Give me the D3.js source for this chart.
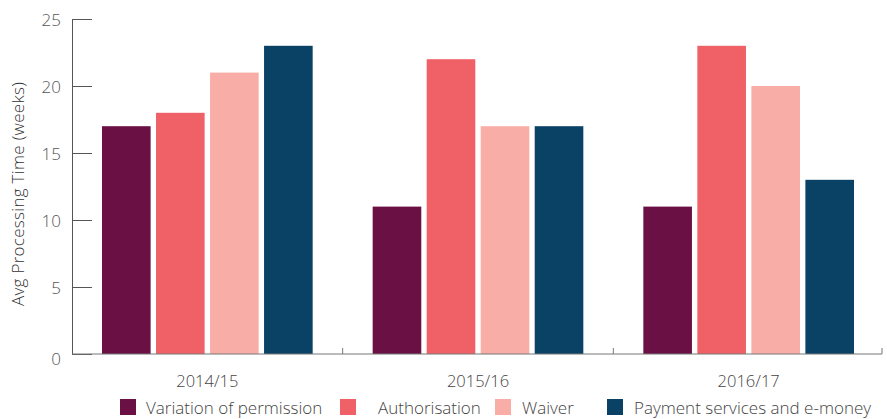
<!DOCTYPE html>
<html>
<head>
<meta charset="utf-8">
<script src="https://cdn.jsdelivr.net/npm/d3@7"></script>
<style>
  body { margin: 0; background: #fff; }
  svg text { font-family: "Open Sans", Lato, sans-serif; font-weight: 300; }
</style>
</head>
<body>
<svg width="887" height="419"></svg>
<script>
var years = ["2014/15", "2015/16", "2016/17"];
var seriesNames = ["Variation of permission", "Authorisation", "Waiver", "Payment services and e-money"];
var variation = [17, 11, 11];
var authorisation = [18, 22, 23];
var waiver = [21, 17, 20];
var payment = [23, 17, 13];
var yTicks = [0, 5, 10, 15, 20, 25];
var colors = ["#6b1044", "#f06167", "#f8aea6", "#0a4265"];

var svg = d3.select("svg");
var allSeries = [variation, authorisation, waiver, payment];

var x0 = d3.scaleBand().domain(years).range([72, 884]).paddingInner(0).paddingOuter(0);
var x1 = d3.scaleBand().domain(seriesNames).range([30, x0.bandwidth() - 30]).paddingInner(0.1).paddingOuter(0);
var y = d3.scaleLinear().domain([0, 25]).range([354, 19]);

// bars
var groups = svg.append("g").selectAll("g")
    .data(years)
    .enter().append("g")
    .attr("transform", function (d) { return "translate(" + x0(d) + ",0)"; });

groups.selectAll("rect")
    .data(function (d, i) { return seriesNames.map(function (s, j) { return {s: s, v: allSeries[j][i], j: j}; }); })
    .enter().append("rect")
    .attr("x", function (d) { return x1(d.s); })
    .attr("width", x1.bandwidth())
    .attr("y", function (d) { return y(d.v); })
    .attr("height", function (d) { return y(0) - y(d.v); })
    .style("fill", function (d) { return colors[d.j]; });

// y axis
var yAxis = d3.axisRight(y).tickValues(yTicks).tickSize(20).tickFormat("");
var gy = svg.append("g").attr("transform", "translate(72,0)").call(yAxis);
gy.select(".domain").attr("stroke", "#555");
gy.selectAll(".tick line").attr("stroke", "#555");

svg.append("g").selectAll("text")
    .data(yTicks)
    .enter().append("text")
    .attr("x", 61)
    .attr("y", function (d) { return y(d) + (d === 0 ? 5 : 1); })
    .attr("dy", "0.35em")
    .attr("text-anchor", "end")
    .style("font-size", "17px")
    .style("fill", "#555")
    .text(function (d) { return d; });

// x axis
var xAxis = d3.axisBottom(x0).tickSize(0).tickFormat("");
var gx = svg.append("g").attr("transform", "translate(0,354)").call(xAxis);
gx.select(".domain").attr("stroke", "#777").attr("d", "M72,0H882V-6");

svg.append("g").selectAll("line")
    .data(years.slice(1))
    .enter().append("line")
    .attr("x1", function (d) { return x0(d); })
    .attr("x2", function (d) { return x0(d); })
    .attr("y1", 354)
    .attr("y2", 348)
    .attr("stroke", "#777");

svg.append("g").selectAll("text")
    .data(years)
    .enter().append("text")
    .attr("x", function (d) { return x0(d) + x0.bandwidth() / 2; })
    .attr("y", 381)
    .attr("dy", "0.35em")
    .attr("text-anchor", "middle")
    .style("font-size", "16.5px")
    .style("fill", "#444")
    .text(function (d) { return d; });

// y label
svg.append("text")
    .attr("transform", "translate(18,194) rotate(-90)")
    .attr("dy", "0.35em")
    .attr("text-anchor", "middle")
    .style("font-size", "17px")
    .style("letter-spacing", "0.3px")
    .style("fill", "#333")
    .text("Avg Processing Time (weeks)");

// legend
var legendX = [120, 340, 495, 607];
var legendTextX = [146, 378, 522, 634];
var legend = svg.append("g").selectAll("g")
    .data(seriesNames)
    .enter().append("g");

legend.append("rect")
    .attr("x", function (d, i) { return legendX[i]; })
    .attr("y", 399)
    .attr("width", 16)
    .attr("height", 16)
    .style("fill", function (d, i) { return colors[i]; });

legend.append("text")
    .attr("x", function (d, i) { return legendTextX[i]; })
    .attr("y", 408)
    .attr("dy", "0.35em")
    .style("font-size", "17px")
    .style("fill", "#444")
    .text(function (d) { return d; });
</script>
</body>
</html>
